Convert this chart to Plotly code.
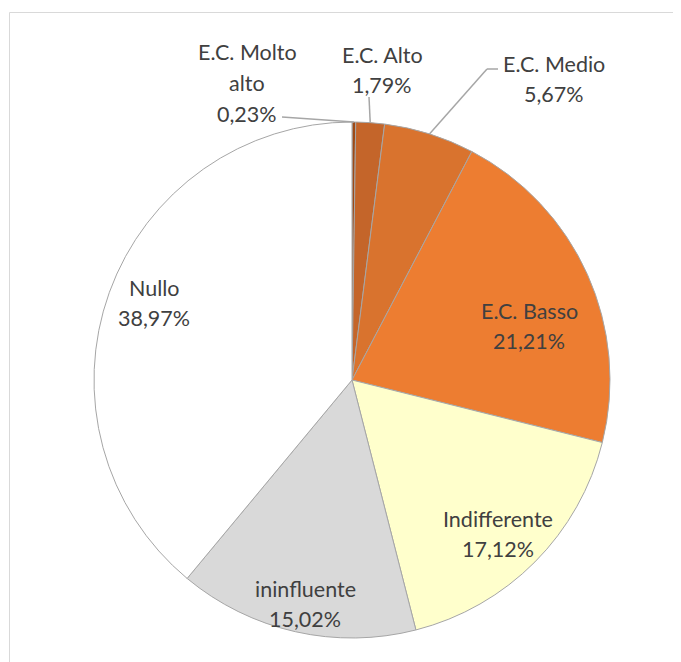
import math
import plotly.graph_objects as go

# ---- data ----
categories = ["E.C. Molto alto", "E.C. Alto", "E.C. Medio", "E.C. Basso",
              "Indifferente", "ininfluente", "Nullo"]
label_lines = [["E.C. Molto", "alto"], ["E.C. Alto"], ["E.C. Medio"], ["E.C. Basso"],
               ["Indifferente"], ["ininfluente"], ["Nullo"]]
values = [0.23, 1.79, 5.67, 21.21, 17.12, 15.02, 38.97]

# ---- styles / layout ----
colors = ["#9E4A16", "#C4652A", "#D9732E", "#ED7D31", "#FFFFCC", "#D9D9D9", "#FFFFFF"]
W, H = 681, 662
OFF = 8                              # default page body margin
FW, FH = W - OFF, H - OFF
CX, CY, R = 352, 380, 258            # pie centre / radius in page px
label_pos = [(247, 83), (382, 70), (554, 79), (529, 326),
             (498, 534), (305, 604), (154, 303)]
LINE_H = 30.5
leader_start = {0: [(282, 117)], 1: [(369, 97)], 2: [(498, 69), (487, 69)]}
FONT = "Lato"
FS = 21.5
TXT = "#404040"


def px(x):
    return (x - OFF) / FW


def py(y):
    return 1 - (y - OFF) / FH


fig = go.Figure(go.Pie(
    labels=categories, values=values, sort=False, direction="clockwise",
    rotation=0, textinfo="none", hoverinfo="label+percent",
    marker=dict(colors=colors, line=dict(color="#A6A6A6", width=1)),
    domain=dict(x=[px(CX - R), px(CX + R)], y=[py(CY + R), py(CY - R)]),
    showlegend=False,
))

total = sum(values)
cum = 0.0
frame = dict(color="#D9D9D9", width=1)
shapes = [
    dict(type="line", xref="paper", yref="paper", x0=px(9.5), y0=py(12.5),
         x1=px(W + 30), y1=py(12.5), line=frame),
    dict(type="line", xref="paper", yref="paper", x0=px(9.5), y0=py(12.5),
         x1=px(9.5), y1=py(H + 30), line=frame),
]
annotations = []
for i, v in enumerate(values):
    mid = (cum + v / 2) / total * 2 * math.pi
    cum += v
    pct = f"{v:.2f}".replace(".", ",") + "%"
    lines = label_lines[i] + [pct]
    lx, ly = label_pos[i]
    n = len(lines)
    for k, t in enumerate(lines):
        yy = ly + (k - (n - 1) / 2) * LINE_H
        annotations.append(dict(
            x=px(lx), y=py(yy), xref="paper", yref="paper", showarrow=False,
            text=t, align="center", xanchor="center", yanchor="middle",
            font=dict(family=FONT, size=FS, color=TXT)))
    if i in leader_start:
        ax = CX + R * math.sin(mid)
        ay = CY - R * math.cos(mid)
        pts = leader_start[i] + [(ax, ay)]
        for (x0, y0), (x1, y1) in zip(pts[:-1], pts[1:]):
            shapes.append(dict(type="line", xref="paper", yref="paper",
                               x0=px(x0), y0=py(y0), x1=px(x1), y1=py(y1),
                               line=dict(color="#A6A6A6", width=1.5)))

fig.update_layout(
    width=FW, height=FH, margin=dict(l=0, r=0, t=0, b=0),
    paper_bgcolor="white", plot_bgcolor="white",
    shapes=shapes, annotations=annotations,
)
fig.write_html("out.html")
